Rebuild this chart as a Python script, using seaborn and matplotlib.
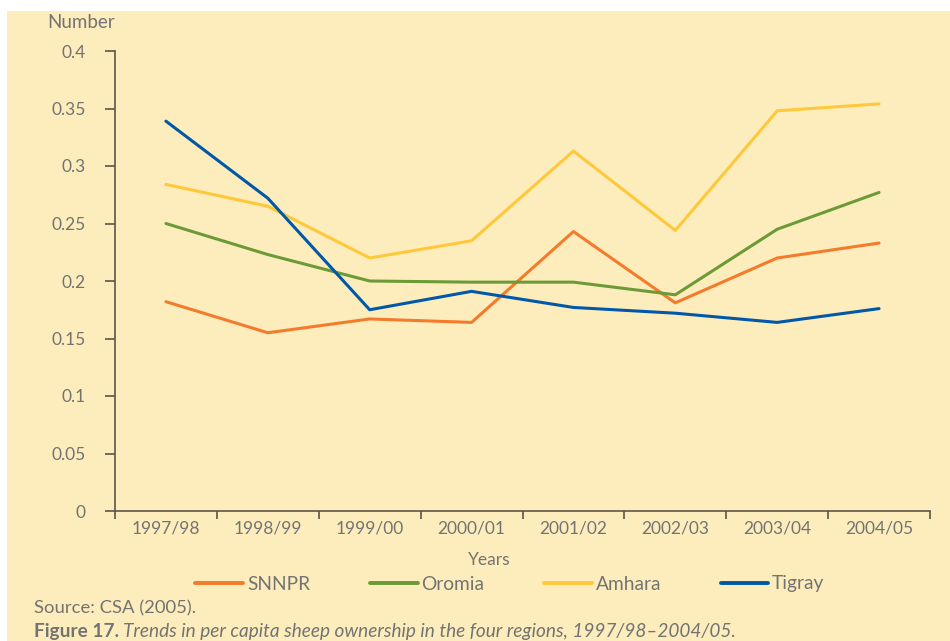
import matplotlib
matplotlib.use("Agg")
import matplotlib.pyplot as plt
import seaborn as sns
import pandas as pd
from matplotlib.patches import Rectangle

# values
years = ["1997/98", "1998/99", "1999/00", "2000/01", "2001/02", "2002/03", "2003/04", "2004/05"]
snnpr = [0.182, 0.155, 0.167, 0.164, 0.243, 0.181, 0.220, 0.233]
oromia = [0.250, 0.223, 0.200, 0.199, 0.199, 0.188, 0.245, 0.277]
amhara = [0.284, 0.265, 0.220, 0.235, 0.313, 0.244, 0.348, 0.354]
tigray = [0.339, 0.272, 0.175, 0.191, 0.177, 0.172, 0.164, 0.176]
regions = ["SNNPR", "Oromia", "Amhara", "Tigray"]
colors = ["#F47B2B", "#6B9A36", "#FFC83A", "#0158A8"]

df = pd.DataFrame({
    "year": years * 4,
    "x": list(range(len(years))) * 4,
    "value": snnpr + oromia + amhara + tigray,
    "region": [r for r in regions for _ in years],
})

sns.set_style("white")
plt.rcParams["font.family"] = ["Lato", "DejaVu Sans"]
text_col = "#737373"
axis_col = "#5b5448"
bg = "#FEEDBC"

fig = plt.figure(figsize=(9.5, 6.41), dpi=100, facecolor="white")
fig.patches.append(Rectangle((7 / 950, 0), 1, 630 / 641, transform=fig.transFigure,
                             facecolor=bg, edgecolor="none", zorder=-10))

ax = fig.add_axes([115 / 950, (641 - 511) / 641, (930 - 115) / 950, (511 - 51) / 641])
ax.set_facecolor("none")

sns.lineplot(data=df, x="x", y="value", hue="region", hue_order=regions,
             palette=colors, linewidth=2.2, ax=ax, legend=False)

ax.set_xlim(-0.5, len(years) - 0.5)
ax.set_ylim(0, 0.4)
ax.set_yticks([0, 0.05, 0.1, 0.15, 0.2, 0.25, 0.3, 0.35, 0.4])
ax.set_yticklabels(["0", "0.05", "0.1", "0.15", "0.2", "0.25", "0.3", "0.35", "0.4"])
ax.set_xticks([i - 0.5 for i in range(len(years) + 1)])
ax.set_xticklabels([])
ax.set_xticks(range(len(years)), minor=True)
ax.set_xticklabels(years, minor=True)
ax.tick_params(axis="x", which="major", bottom=True, length=6, width=1.2,
               color=axis_col, direction="out")
ax.tick_params(axis="x", which="minor", bottom=True, length=0, pad=7,
               labelsize=12.5, labelcolor=text_col)
ax.tick_params(axis="y", left=True, length=7, width=1.2, color=axis_col, direction="out",
               pad=14, labelsize=12.5, labelcolor=text_col)
ax.set_xlabel("")
ax.set_ylabel("")
for s in ["top", "right"]:
    ax.spines[s].set_visible(False)
for s in ["left", "bottom"]:
    ax.spines[s].set_color(axis_col)
    ax.spines[s].set_linewidth(1.2)

fig.text(115 / 950, 1 - 23 / 641, "Number", ha="right", va="center", fontsize=13.5, color=text_col)
fig.text(489 / 950, 1 - 560 / 641, "Years", ha="center", va="center", fontsize=12.5, color=text_col)

handles = [plt.Line2D([], [], color=c, linewidth=2.8) for c in colors]
fig.legend(handles, regions, loc="center", bbox_to_anchor=(510 / 950, 1 - 584 / 641),
           ncol=4, frameon=False, handlelength=2.5, handletextpad=0.2, columnspacing=3.1,
           fontsize=13.8, labelcolor=text_col)

fig.text(34 / 950, 1 - 608 / 641, "Source: CSA (2005).", ha="left", va="center",
         fontsize=13.3, color=text_col)
t1 = fig.text(34 / 950, 1 - 631 / 641, "Figure 17.", ha="left", va="center",
              fontsize=13.7, color=text_col, fontweight="bold")
fig.canvas.draw()
bb = t1.get_window_extent()
fig.text(bb.x1 / 950 + 4 / 950, 1 - 631 / 641,
         "Trends in per capita sheep ownership in the four regions, 1997/98\u20132004/05.",
         ha="left", va="center", fontsize=13.7, color=text_col, style="italic")

fig.savefig("out.png", dpi=100, facecolor="white")
